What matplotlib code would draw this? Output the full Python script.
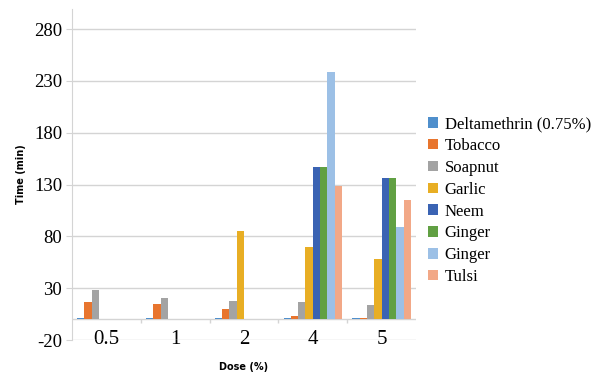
import matplotlib
matplotlib.use('Agg')
import matplotlib.pyplot as plt
import numpy as np

# Dose levels and the time (min) for each treatment
doses = ['0.5', '1', '2', '4', '5']
series_names = ['Deltamethrin (0.75%)', 'Tobacco', 'Soapnut', 'Garlic',
                'Neem', 'Ginger', 'Ginger', 'Tulsi']
deltamethrin = [1, 1, 1, 1, 1]
tobacco = [17, 15, 10, 3, 1]
soapnut = [28, 21, 18, 17, 14]
garlic = [0, 0, 85, 70, 58]
neem = [0, 0, 0, 147, 136]
ginger = [0, 0, 0, 147, 136]
ginger_2 = [0, 0, 0, 239, 89]
tulsi = [0, 0, 0, 129, 115]

y_ticks = [-20, 30, 80, 130, 180, 230, 280]

values = [deltamethrin, tobacco, soapnut, garlic, neem, ginger, ginger_2, tulsi]
colors = ['#4F8FCC', '#E8752E', '#A3A3A3', '#E8AE24',
          '#3A63B3', '#61A043', '#9CC0E6', '#F2A887']

plt.rcParams['axes.unicode_minus'] = False
serif = 'Liberation Serif'
grid_col = '#D4D4D4'

fig = plt.figure(figsize=(5.91, 3.79), dpi=100)
ax = fig.add_axes([0.1218, 0.1029, 0.5821, 0.8735])

n = len(values)
bar_w = 0.85 / n
x = np.arange(len(doses))
for i, (vals, col, name) in enumerate(zip(values, colors, series_names)):
    offs = (i - (n - 1) / 2) * bar_w
    ax.bar(x + offs, vals, width=bar_w, color=col, label=name, zorder=3)

ax.set_xlim(-0.5, len(doses) - 0.5)
ax.set_ylim(-20, 299.5)

# horizontal gridlines and the zero baseline with category separators
ax.set_yticks(y_ticks)
ax.yaxis.grid(True, color=grid_col, linewidth=1.0, zorder=0)
ax.axhline(0, color=grid_col, linewidth=1.0, zorder=2)
sep = np.arange(0.5, len(doses) - 0.5)
ax.vlines(sep, -4, 0, color=grid_col, linewidth=1.0, zorder=2, clip_on=False)

for side in ['top', 'right', 'bottom']:
    ax.spines[side].set_visible(False)
ax.spines['left'].set_color(grid_col)

ax.tick_params(axis='y', length=4, color=grid_col, labelsize=13.5, pad=3)
ax.set_xticks(x)
ax.set_xticklabels(doses)
ax.tick_params(axis='x', length=0, labelsize=15, pad=-7)
for lab in ax.get_xticklabels() + ax.get_yticklabels():
    lab.set_fontfamily(serif)

ax.set_ylabel('Time (min)', fontsize=7, fontweight='bold', family='DejaVu Sans', labelpad=6)
ax.set_xlabel('Dose (%)', fontsize=7, fontweight='bold', family='DejaVu Sans', labelpad=9)

ax.legend(loc='center left', bbox_to_anchor=(1.035, 0.421), frameon=False,
          prop={'family': serif, 'size': 12}, handlelength=0.6, handleheight=0.6,
          handletextpad=0.4, labelspacing=0.35, borderaxespad=0, borderpad=0)

fig.savefig('out.png', dpi=100)
